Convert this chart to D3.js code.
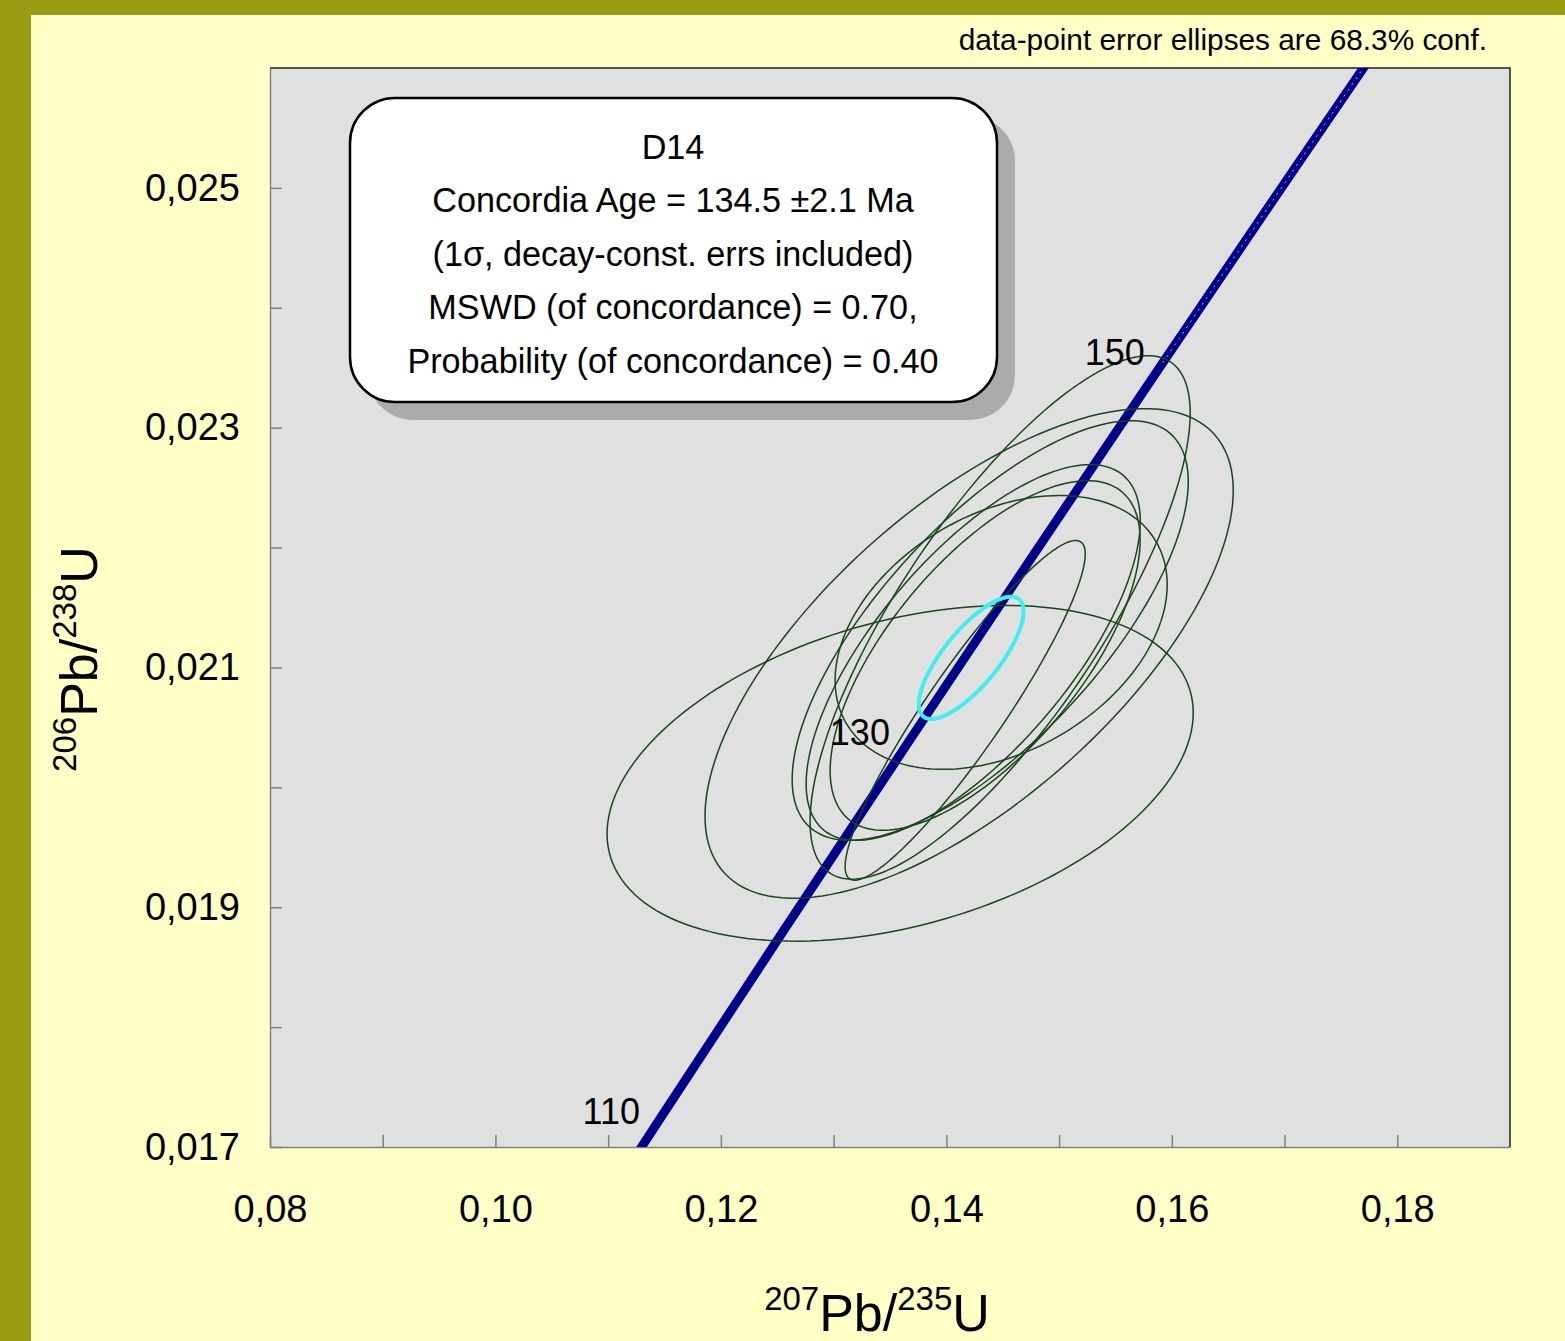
<!DOCTYPE html>
<html>
<head>
<meta charset="utf-8">
<script src="https://d3js.org/d3.v7.min.js"></script>
<title>D14 concordia</title>
<style>
  body { margin: 0; background: #9c9c14; }
  svg { display: block; font-family: "Liberation Sans", Arial, sans-serif; }
  .tick text { fill: #000; }
</style>
</head>
<body>
<div id="chart"></div>
<script>
// axis ticks
var xTicks = [0.08, 0.09, 0.10, 0.11, 0.12, 0.13, 0.14, 0.15, 0.16, 0.17, 0.18];
var xLabels = ["0,08", "", "0,10", "", "0,12", "", "0,14", "", "0,16", "", "0,18"];
var yTicks = [0.017, 0.018, 0.019, 0.020, 0.021, 0.022, 0.023, 0.024, 0.025];
var yLabels = ["0,017", "", "0,019", "", "0,021", "", "0,023", "", "0,025"];

// concordia curve points (age in Ma, 207Pb/235U, 206Pb/238U)
var concAges = [105, 110, 120, 130, 140, 150, 160, 170];
var concX = [0.10895, 0.11442, 0.12545, 0.13659, 0.14784, 0.15920, 0.17067, 0.18225];
var concY = [0.016421, 0.017210, 0.018789, 0.020371, 0.021955, 0.023542, 0.025131, 0.026722];
var labelAges = [110, 130, 150];

// data-point error ellipses: centre, half-widths, correlation
var ellX   = [0.13590, 0.14202, 0.14477, 0.14344, 0.14486, 0.14167, 0.14238, 0.14389];
var ellY   = [0.020117, 0.021117, 0.021417, 0.021100, 0.021292, 0.020642, 0.021125, 0.021308];
var ellSx  = [0.02600, 0.02343, 0.01686, 0.01375, 0.01473, 0.01065, 0.01482, 0.01757];
var ellSy  = [0.001400, 0.002042, 0.002183, 0.001458, 0.001142, 0.001417, 0.001567, 0.001750];
var ellRho = [0.36, 0.665, 0.78, 0.66, 0.35, 0.92, 0.70, 0.71];

// concordia age ellipse
var ageEll = {x: 0.14220, y: 0.021080, sx: 0.00465, sy: 0.000510, rho: 0.76};

var boxLines = ["D14",
  "Concordia Age = 134.5 \u00b12.1 Ma",
  "(1\u03c3, decay-const. errs included)",
  "MSWD (of concordance) = 0.70,",
  "Probability (of concordance) = 0.40"];

var W = 1565, H = 1341;
var pLeft = 270, pRight = 1510, pTop = 68, pBottom = 1147;

var svg = d3.select("#chart").append("svg")
  .attr("width", W)
  .attr("height", H);

// frame + panel
svg.append("rect").attr("width", W).attr("height", H).attr("fill", "#9c9c14");
svg.append("rect").attr("x", 31).attr("y", 15).attr("width", W - 31).attr("height", H - 15)
  .attr("fill", "#ffffc6");

var x = d3.scaleLinear().domain([0.08, 0.19]).range([pLeft, pRight]);
var y = d3.scaleLinear().domain([0.017, 0.026]).range([pBottom, pTop]);

svg.append("rect").attr("x", pLeft).attr("y", pTop)
  .attr("width", pRight - pLeft).attr("height", pBottom - pTop)
  .attr("fill", "#e0e0e0");

svg.append("defs").append("clipPath").attr("id", "plotclip")
  .append("rect").attr("x", pLeft).attr("y", pTop)
  .attr("width", pRight - pLeft).attr("height", pBottom - pTop);

// axes
var xAxis = d3.axisBottom(x).tickValues(xTicks)
  .tickSizeInner(-12).tickSizeOuter(0).tickPadding(48)
  .tickFormat(function(d, i) { return xLabels[i]; });
var gx = svg.append("g").attr("transform", "translate(0," + pBottom + ")").call(xAxis);

var yAxis = d3.axisLeft(y).tickValues(yTicks)
  .tickSizeInner(-12).tickSizeOuter(0).tickPadding(30)
  .tickFormat(function(d, i) { return yLabels[i]; });
var gy = svg.append("g").attr("transform", "translate(" + pLeft + ",0)").call(yAxis);

[gx, gy].forEach(function(g) {
  g.select(".domain").attr("stroke", "#808080").attr("stroke-width", 1.5);
  g.selectAll(".tick line").attr("stroke", "#808080").attr("stroke-width", 1.5);
  g.selectAll(".tick text").attr("font-size", 38)
    .attr("font-family", "Liberation Sans, Arial, sans-serif");
});

// top and right border
svg.append("path")
  .attr("d", "M" + pLeft + "," + pTop + "H" + pRight + "V" + pBottom)
  .attr("fill", "none").attr("stroke", "#202020").attr("stroke-width", 1.5);

var plot = svg.append("g").attr("clip-path", "url(#plotclip)");

function ellPoints(cx, cy, sx, sy, rho) {
  var pts = [];
  var k = Math.sqrt(1 - rho * rho);
  for (var i = 0; i < 160; i++) {
    var t = i / 160 * 2 * Math.PI;
    pts.push([cx + sx * Math.cos(t), cy + sy * (rho * Math.cos(t) + k * Math.sin(t))]);
  }
  return pts;
}

var ellLine = d3.line()
  .x(function(d) { return x(d[0]); })
  .y(function(d) { return y(d[1]); })
  .curve(d3.curveLinearClosed);

// concordia band
var concPts = concAges.map(function(a, i) { return [concX[i], concY[i]]; });
var concLine = d3.line()
  .x(function(d) { return x(d[0]); })
  .y(function(d) { return y(d[1]); })
  .curve(d3.curveMonotoneX);

plot.append("path").attr("d", concLine(concPts))
  .attr("fill", "none").attr("stroke", "#00008b").attr("stroke-width", 9);
// inner gap of the envelope near the top
plot.append("path").attr("d", concLine(concPts.slice(5)))
  .attr("fill", "none").attr("stroke", "#b8b8e0").attr("stroke-width", 1)
  .attr("stroke-dasharray", "2,5");

// error ellipses
plot.selectAll("path.ell").data(ellX).enter().append("path")
  .attr("class", "ell")
  .attr("d", function(d, i) {
    return ellLine(ellPoints(ellX[i], ellY[i], ellSx[i], ellSy[i], ellRho[i]));
  })
  .attr("fill", "none").attr("stroke", "#1a451a").attr("stroke-width", 1.5);

plot.append("path")
  .attr("d", ellLine(ellPoints(ageEll.x, ageEll.y, ageEll.sx, ageEll.sy, ageEll.rho)))
  .attr("fill", "none").attr("stroke", "#40eef2").attr("stroke-width", 4);

// age labels on the concordia
labelAges.forEach(function(a) {
  var i = concAges.indexOf(a);
  svg.append("text")
    .attr("x", x(concX[i]) - 18)
    .attr("y", y(concY[i]) + 2)
    .attr("text-anchor", "end")
    .attr("font-size", 36)
    .attr("fill", "#000")
    .text(a);
});

// result box with shadow
svg.append("rect").attr("x", 368).attr("y", 116).attr("width", 647).attr("height", 304)
  .attr("rx", 45).attr("fill", "#ababab");
svg.append("rect").attr("x", 350).attr("y", 98).attr("width", 647).attr("height", 304)
  .attr("rx", 45).attr("fill", "#fff").attr("stroke", "#000").attr("stroke-width", 2.5);

var baseY = [159, 212, 266, 319, 373];
svg.selectAll("text.box").data(boxLines).enter().append("text")
  .attr("class", "box")
  .attr("x", 673)
  .attr("y", function(d, i) { return baseY[i]; })
  .attr("text-anchor", "middle")
  .attr("font-size", 34.2)
  .attr("fill", "#000")
  .text(function(d) { return d; });

// header note
svg.append("text").attr("x", 1487).attr("y", 50)
  .attr("text-anchor", "end").attr("font-size", 29.8).attr("fill", "#000")
  .text("data-point error ellipses are 68.3% conf.");

// axis titles
var xt = svg.append("text").attr("x", 877).attr("y", 1331)
  .attr("text-anchor", "middle").attr("font-size", 52).attr("fill", "#000");
xt.append("tspan").attr("font-size", 33).attr("dy", -21).text("207");
xt.append("tspan").attr("dy", 21).text("Pb/");
xt.append("tspan").attr("font-size", 33).attr("dy", -21).text("235");
xt.append("tspan").attr("dy", 21).text("U");

var yt = svg.append("text").attr("transform", "translate(97,659) rotate(-90)")
  .attr("text-anchor", "middle").attr("font-size", 52).attr("fill", "#000");
yt.append("tspan").attr("font-size", 33).attr("dy", -21).text("206");
yt.append("tspan").attr("dy", 21).text("Pb/");
yt.append("tspan").attr("font-size", 33).attr("dy", -21).text("238");
yt.append("tspan").attr("dy", 21).text("U");
</script>
</body>
</html>
